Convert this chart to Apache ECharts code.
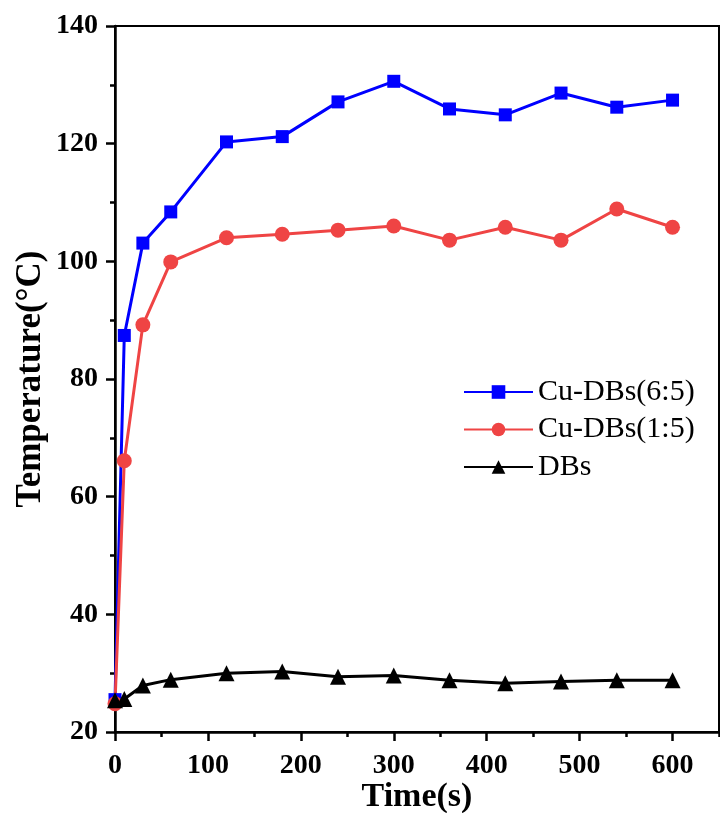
<!DOCTYPE html>
<html>
<head>
<meta charset="utf-8">
<script src="https://cdn.jsdelivr.net/npm/echarts@6/dist/echarts.min.js"></script>
<style>
  html, body { margin: 0; padding: 0; background: #fff; }
  #chart { width: 720px; height: 813px; }
</style>
</head>
<body>
<div id="chart"></div>
<script>
// 时间 (s)
const timeS = [0, 10, 30, 60, 120, 180, 240, 300, 360, 420, 480, 540, 600]
// 温度
const cuDbs65 = [25.5, 87.4, 103.1, 108.4, 120.3, 121.2, 127.1, 130.6, 125.9, 124.9, 128.6, 126.2, 127.4]
const cuDbs15 = [24.8, 66.1, 89.2, 99.9, 104.0, 104.6, 105.3, 106.0, 103.6, 105.8, 103.6, 108.9, 105.8]
const dbs = [25.4, 25.6, 27.9, 28.9, 30.0, 30.3, 29.4, 29.6, 28.8, 28.3, 28.6, 28.8, 28.8]

const FONT = 'Liberation Serif'
const pairs = (ys) => timeS.map((t, i) => [t, ys[i]])

const chart = echarts.init(document.getElementById('chart'))

const lineSeries = (name, ys, color, symbol, size) => ({
  name,
  type: 'line',
  data: pairs(ys),
  symbol,
  symbolSize: size,
  color,
  lineStyle: { width: 3, color },
  itemStyle: { color },
  emphasis: { disabled: true }
})

const gridBox = { left: 115, right: 1, top: 26, bottom: 81, outerBoundsMode: 'none', containLabel: false }

const option = {
  animation: false,
  grid: [
    { ...gridBox, show: true, borderColor: '#000', borderWidth: 2 },
    // 次刻度用的第二个网格
    { ...gridBox }
  ],
  legend: {
    left: 458,
    top: 372,
    orient: 'vertical',
    itemWidth: 69,
    itemHeight: 17,
    itemGap: 7.5,
    textStyle: { fontFamily: FONT, fontSize: 30, color: '#000', lineHeight: 30 },
    data: ['Cu-DBs(6:5)', 'Cu-DBs(1:5)', 'DBs']
  },
  xAxis: [
    {
      type: 'value',
      gridIndex: 0,
      min: 0,
      max: 650,
      interval: 100,
      name: 'Time(s)',
      nameLocation: 'middle',
      nameGap: 48,
      nameMoveOverlap: false,
      nameTextStyle: { fontFamily: FONT, fontSize: 34, fontWeight: 'bold', color: '#000' },
      axisLine: { lineStyle: { color: '#000', width: 2.5 } },
      axisTick: { length: 9, lineStyle: { color: '#000', width: 2.5 } },
      axisLabel: {
        margin: 20,
        showMaxLabel: false,
        fontFamily: FONT,
        fontSize: 28,
        fontWeight: 'bold',
        color: '#000'
      },
      splitLine: { show: false }
    },
    {
      type: 'value',
      gridIndex: 1,
      position: 'bottom',
      min: 0,
      max: 650,
      interval: 50,
      axisLine: { show: false },
      axisTick: { length: 5, lineStyle: { color: '#000', width: 2.5 } },
      axisLabel: { show: false },
      splitLine: { show: false }
    }
  ],
  yAxis: [
    {
      type: 'value',
      gridIndex: 0,
      min: 20,
      max: 140,
      interval: 20,
      name: 'Temperature(°C)',
      nameLocation: 'middle',
      nameGap: 67,
      nameMoveOverlap: false,
      nameTextStyle: { fontFamily: FONT, fontSize: 35, fontWeight: 'bold', color: '#000' },
      axisLine: { show: true, lineStyle: { color: '#000', width: 2.5 } },
      axisTick: { show: true, length: 9, lineStyle: { color: '#000', width: 2.5 } },
      minorTick: { show: true, splitNumber: 2, length: 5, lineStyle: { color: '#000', width: 2.5 } },
      axisLabel: { margin: 17, fontFamily: FONT, fontSize: 28, fontWeight: 'bold', color: '#000' },
      splitLine: { show: false }
    },
    {
      type: 'value',
      gridIndex: 1,
      min: 20,
      max: 140,
      show: false
    }
  ],
  series: [
    lineSeries('Cu-DBs(6:5)', cuDbs65, '#0000ff', 'rect', 13),
    lineSeries('Cu-DBs(1:5)', cuDbs15, '#ef4444', 'circle', 15),
    lineSeries('DBs', dbs, '#000000', 'triangle', 16)
  ]
}

chart.setOption(option)
</script>
</body>
</html>
